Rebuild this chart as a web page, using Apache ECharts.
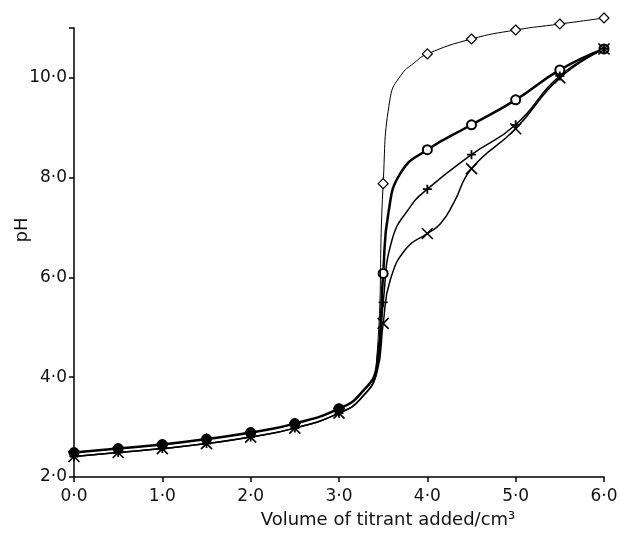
<!DOCTYPE html>
<html>
<head>
<meta charset="utf-8">
<script src="https://cdn.jsdelivr.net/npm/echarts@6/dist/echarts.min.js"></script>
<style>
  html, body { margin: 0; padding: 0; background: #fff; }
  #chart { width: 620px; height: 534px; }
</style>
</head>
<body>
<div id="chart"></div>
<script>
// tick labels
var xTickLabels = ['0·0', '1·0', '2·0', '3·0', '4·0', '5·0', '6·0'];
var yTickLabels = { 2: '2·0', 4: '4·0', 6: '6·0', 8: '8·0', 10: '10·0' };

// volume (cm3) and pH; points off the 0.5 grid are
// readings of the curve between the measured points
var diamondX = [0, 0.5, 1, 1.5, 2, 2.5, 3, 3.25, 3.42, 3.5, 3.58, 3.7, 3.85, 4, 4.5, 5, 5.5, 6];
var diamondPH = [2.49, 2.57, 2.65, 2.76, 2.89, 3.07, 3.37, 3.68, 4.2, 7.88, 9.6, 10.05, 10.3, 10.48, 10.78, 10.96, 11.08, 11.2];

var circleX = [0, 0.5, 1, 1.5, 2, 2.5, 3, 3.25, 3.43, 3.5, 3.56, 3.7, 4, 4.5, 5, 5.5, 6];
var circlePH = [2.49, 2.57, 2.65, 2.76, 2.89, 3.07, 3.37, 3.68, 4.25, 6.08, 7.3, 8.1, 8.56, 9.06, 9.56, 10.16, 10.58];

var plusX = [0, 0.5, 1, 1.5, 2, 2.5, 3, 3.25, 3.43, 3.5, 3.6, 3.8, 4, 4.5, 5, 5.5, 6];
var plusPH = [2.41, 2.49, 2.57, 2.67, 2.8, 2.98, 3.28, 3.58, 4.15, 5.5, 6.75, 7.4, 7.77, 8.46, 9.06, 10.04, 10.58];

var crossX = [0, 0.5, 1, 1.5, 2, 2.5, 3, 3.25, 3.43, 3.5, 3.58, 3.77, 4, 4.15, 4.3, 4.5, 5, 5.5, 6];
var crossPH = [2.41, 2.49, 2.57, 2.67, 2.8, 2.98, 3.28, 3.58, 4.1, 5.08, 5.95, 6.6, 6.88, 7.08, 7.5, 8.18, 8.98, 10.0, 10.58];

function pairs(xs, ys) {
    return xs.map(function (x, i) {
        var measured = Math.abs(x * 2 - Math.round(x * 2)) < 1e-9;
        var item = { value: [x, ys[i]] };
        if (!measured) {
            item.symbol = 'none';
            item.symbolSize = 0;
        } else if (x <= 3) {
            // the early points print as solid blobs
            item.itemStyle = { color: '#000' };
        }
        return item;
    });
}

function makeSeries(xs, ys, symbol, size, lineWidth, borderWidth, fill, z) {
    return {
        type: 'line',
        data: pairs(xs, ys),
        smooth: 0.5,
        clip: false,
        symbol: symbol,
        symbolSize: size,
        showAllSymbol: true,
        lineStyle: { color: '#000', width: lineWidth },
        itemStyle: { color: fill, borderColor: '#000', borderWidth: borderWidth },
        emphasis: { disabled: true },
        z: z
    };
}

var chart = echarts.init(document.getElementById('chart'));

var option = {
    animation: false,
    backgroundColor: '#fff',
    textStyle: { fontFamily: 'DejaVu Sans' },
    grid: { left: 74, right: 16, top: 28, bottom: 57, containLabel: false, outerBoundsMode: 'none' },
    xAxis: {
        type: 'value',
        min: 0,
        max: 6,
        interval: 1,
        name: 'Volume of titrant added/cm³',
        nameLocation: 'middle',
        nameGap: 34,
        nameMoveOverlap: false,
        nameTextStyle: { color: '#111', fontSize: 18, padding: [0, 0, 0, 98] },
        axisLine: { lineStyle: { color: '#000', width: 1.5 } },
        axisTick: { length: 5, lineStyle: { color: '#000', width: 1.5 } },
        axisLabel: {
            color: '#111',
            fontSize: 17,
            margin: 11,
            formatter: function (v) { return xTickLabels[Math.round(v)]; }
        },
        splitLine: { show: false }
    },
    yAxis: {
        type: 'value',
        min: 2,
        max: 11,
        interval: 2,
        name: 'pH',
        nameLocation: 'middle',
        nameGap: 43,
        nameMoveOverlap: false,
        nameTextStyle: { color: '#111', fontSize: 18, padding: [0, 0, 0, 45] },
        axisLine: { show: true, lineStyle: { color: '#000', width: 1.5 } },
        axisTick: { show: true, length: 5, lineStyle: { color: '#000', width: 1.5 } },
        axisLabel: {
            color: '#111',
            fontSize: 17,
            margin: 7,
            formatter: function (v) { return yTickLabels[v] || ''; }
        },
        splitLine: { show: false }
    },
    series: [
        makeSeries(diamondX, diamondPH, 'diamond', 10, 1, 1.2, '#fff', 4),
        makeSeries(circleX, circlePH, 'emptyCircle', 9, 2.5, 2.5, '#000', 3),
        makeSeries(plusX, plusPH, 'path://M0,5L10,5M5,0L5,10', 9, 1.5, 1.8, '#fff', 3),
        makeSeries(crossX, crossPH, 'path://M0,0L10,10M10,0L0,10', 11, 1.5, 1.6, '#fff', 3)
    ]
};

chart.setOption(option);
</script>
</body>
</html>
